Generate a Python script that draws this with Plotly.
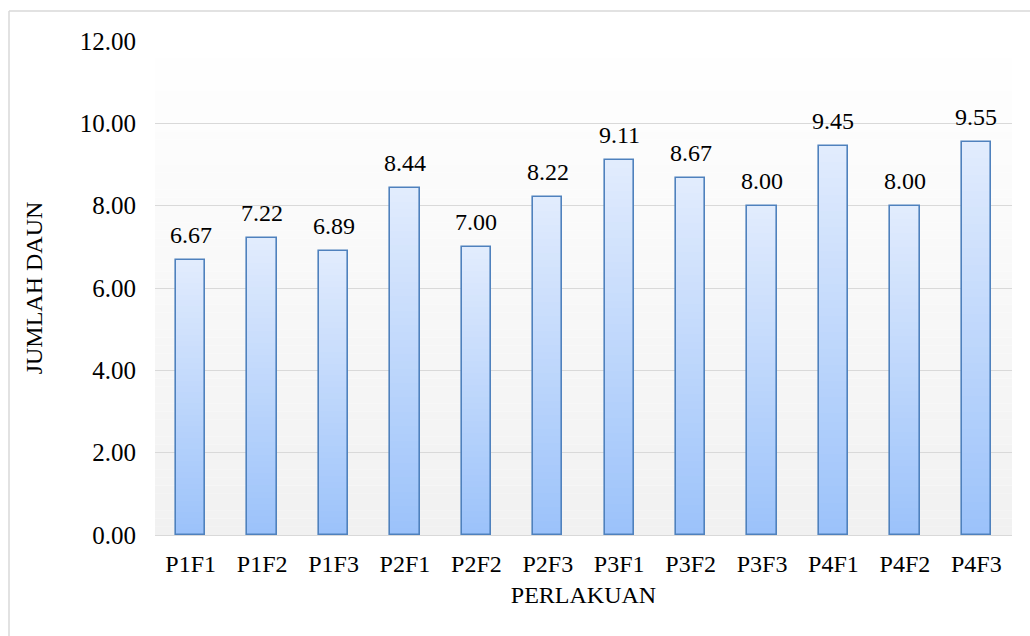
import plotly.graph_objects as go

# Average leaf count per treatment
categories = ["P1F1", "P1F2", "P1F3", "P2F1", "P2F2", "P2F3",
              "P3F1", "P3F2", "P3F3", "P4F1", "P4F2", "P4F3"]
values = [6.67, 7.22, 6.89, 8.44, 7.00, 8.22, 9.11, 8.67, 8.00, 9.45, 8.00, 9.55]
y_ticks = [0, 2, 4, 6, 8, 10, 12]
y_tick_labels = ["0.00", "2.00", "4.00", "6.00", "8.00", "10.00", "12.00"]

FONT = "Liberation Serif, Times New Roman, serif"
FS = 24
BAR_W = 0.41
TOP_RGB = (226, 236, 253)
BOT_RGB = (155, 194, 250)
N_SLICES = 48


def mix(a, b, t):
    return "rgb(%d,%d,%d)" % tuple(round(a[i] + (b[i] - a[i]) * t) for i in range(3))


fig = go.Figure()

# Vertical gradient inside every bar: stacked slices, light at top, darker at bottom
for k in range(N_SLICES):
    t = (k + 0.5) / N_SLICES
    fig.add_trace(go.Bar(
        x=categories,
        y=[v / N_SLICES for v in values],
        base=[v * k / N_SLICES for v in values],
        width=BAR_W,
        marker=dict(color=mix(BOT_RGB, TOP_RGB, t), line=dict(width=0)),
        hoverinfo="skip",
        showlegend=False,
    ))

# Bar outlines
fig.add_trace(go.Bar(
    x=categories,
    y=values,
    width=BAR_W,
    marker=dict(color="rgba(0,0,0,0)", line=dict(color="#4f81bd", width=1.6)),
    showlegend=False,
))

# Value labels above bars
for c, v in zip(categories, values):
    fig.add_annotation(
        x=c, y=v, text=f"{v:.2f}", showarrow=False,
        yanchor="bottom", yshift=10,
        font=dict(family=FONT, size=FS, color="#000000"),
    )

# Plot-area background: soft white-to-grey gradient
shapes = []
N_BG = 60
for k in range(N_BG):
    t = (k + 0.5) / N_BG
    shapes.append(dict(
        type="rect", xref="paper", yref="y", layer="below",
        x0=0, x1=1, y0=12 * k / N_BG, y1=12 * (k + 1) / N_BG,
        fillcolor=mix((241, 241, 241), (255, 255, 255), t),
        line=dict(width=0),
    ))

# Outer chart frame (top and left edges)
L, R, T, B = 155, 18, 41, 101
PW, PH = 1030 - L - R, 636 - T - B
fx0 = (9 - L) / PW
fx1 = (1030 - L) / PW
fy1 = (636 - B - 11) / PH
fy0 = (636 - B - 636) / PH
shapes.append(dict(type="line", xref="paper", yref="paper",
                   x0=fx0, x1=fx1, y0=fy1, y1=fy1,
                   line=dict(color="#d9d9d9", width=1.5)))
shapes.append(dict(type="line", xref="paper", yref="paper",
                   x0=fx0, x1=fx0, y0=fy0, y1=fy1,
                   line=dict(color="#d9d9d9", width=1.5)))

fig.update_layout(
    width=1030, height=636,
    margin=dict(l=L, r=R, t=T, b=B),
    paper_bgcolor="white",
    plot_bgcolor="rgba(0,0,0,0)",
    barmode="overlay",
    bargap=0,
    shapes=shapes,
    font=dict(family=FONT, size=FS, color="#000000"),
    xaxis=dict(
        title=dict(text="PERLAKUAN", font=dict(family=FONT, size=FS), standoff=10),
        tickfont=dict(family=FONT, size=FS),
        showgrid=False,
        showline=True, linecolor="#d9d9d9", linewidth=1,
        ticks="", ticklabelstandoff=7,
        automargin=False,
    ),
    yaxis=dict(
        title=dict(text="JUMLAH DAUN", font=dict(family=FONT, size=FS), standoff=30),
        range=[0, 12],
        tickvals=y_ticks, ticktext=y_tick_labels,
        tickfont=dict(family=FONT, size=25),
        showgrid=True, gridcolor="#d9d9d9", gridwidth=1,
        zeroline=False, showline=False,
        ticks="", ticklabelstandoff=18,
        automargin=False,
    ),
)

fig.write_html("out.html")
